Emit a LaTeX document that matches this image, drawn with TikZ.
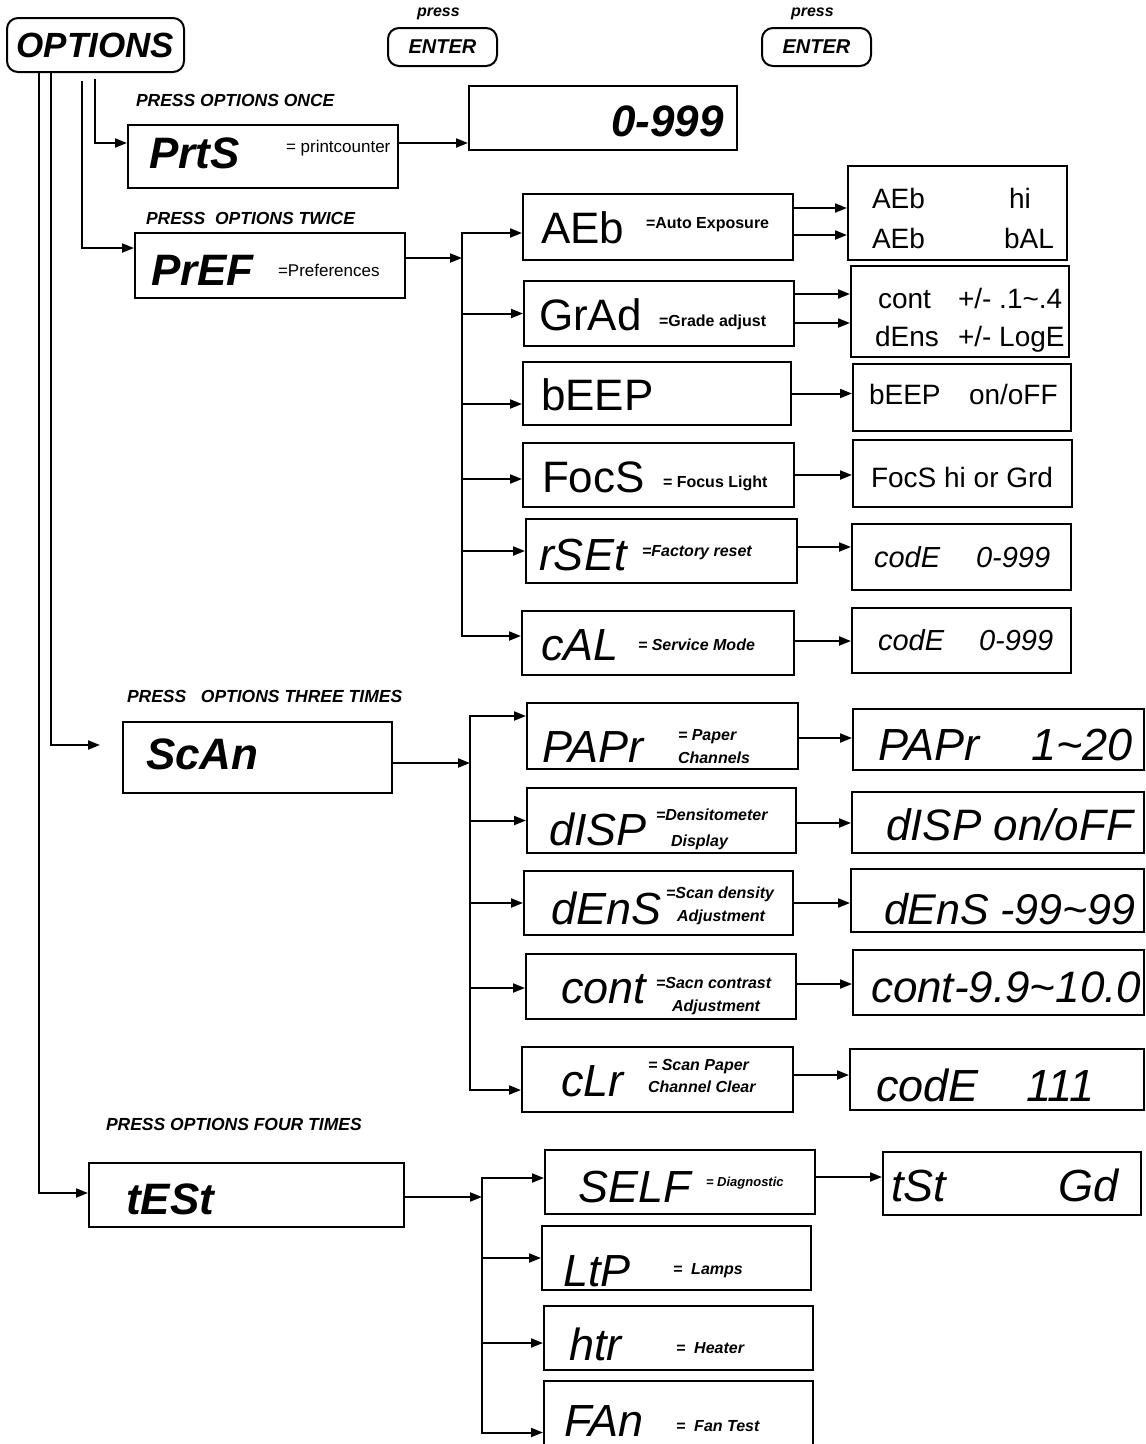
\documentclass[tikz,border=0pt]{standalone}
\usepackage{fontspec}
\setmainfont{Liberation Sans}
\usetikzlibrary{arrows.meta}

\begin{document}
\begin{tikzpicture}[
  x=1pt, y=-1pt,
  line width=2pt,
  box/.style 2 args={draw,line width=2pt,inner sep=0pt,
    minimum width=#1pt,minimum height=#2pt},
  key/.style 2 args={box={#1}{#2},rounded corners=11pt},
  txt/.style={anchor=base west,inner sep=0pt},
  hd/.style={txt,font=\fontsize{17.5}{20}\selectfont\bfseries\itshape},
  press/.style={txt,font=\fontsize{16}{19}\selectfont\bfseries\itshape},
  bigbi/.style={txt,font=\fontsize{44}{50}\selectfont\bfseries\itshape},
  big/.style={txt,font=\fontsize{44}{50}\selectfont},
  bigit/.style={txt,font=\fontsize{45}{50}\selectfont\itshape},
  mid/.style={txt,font=\fontsize{28}{32}\selectfont},
  midit/.style={txt,font=\fontsize{29}{33}\selectfont\itshape},
  reg/.style={txt,font=\fontsize{17}{20}\selectfont},
  note/.style={txt,font=\fontsize{16}{19}\selectfont\bfseries},
  noteit/.style={txt,font=\fontsize{16}{19}\selectfont\bfseries\itshape},
  >={Triangle[length=12pt,width=9pt]}
]
  \useasboundingbox (0,0) rectangle (1146,1444);
  \fill[white] (0,0) rectangle (1146,1444);

  \node[key={177}{54},font=\fontsize{35}{40}\selectfont\bfseries\itshape] (opt) at (95.5,45) {OPTIONS};
  \node[key={109}{38},font=\fontsize{20}{24}\selectfont\bfseries\itshape] (ent1) at (442.5,47) {ENTER};
  \node[key={109}{38},font=\fontsize{20}{24}\selectfont\bfseries\itshape] (ent2) at (816.5,47) {ENTER};
  \node[press] (press1) at (416,16) {press};
  \node[press] (press2) at (790,16) {press};

  \node[hd] (h1) at (135,106) {PRESS OPTIONS ONCE};
  \node[box={270}{63}] (prts) at (263,156.5) {};
  \node[bigbi] (prtsT) at (148,168) {PrtS};
  \node[reg] (prtsN) at (285,152) {= printcounter};
  \node[box={268}{64}] (cnt) at (603,118) {};
  \node[bigbi] (cntT) at (610,136) {0-999};

  \node[hd] (h2) at (145,224) {PRESS\ \ OPTIONS TWICE};
  \node[box={270}{65}] (pref) at (270,265.5) {};
  \node[bigbi] (prefT) at (150,285) {PrEF};
  \node[reg] (prefN) at (277,276) {=Preferences};
  \coordinate (pt) at (462,258);

  \node[box={270}{66}] (aeb) at (658,227) {};
  \node[big] (aebT) at (540,243) {AEb};
  \node[note] (aebN) at (645,228) {=Auto Exposure};
  \node[box={219}{94}] (aebr) at (957.5,213) {};
  \node[mid] (aebr1) at (871,208) {AEb};
  \node[mid] (aebr2) at (1008,208) {hi};
  \node[mid] (aebr3) at (871,248) {AEb};
  \node[mid] (aebr4) at (1003,248) {bAL};

  \node[box={270}{65}] (grad) at (659,313.5) {};
  \node[big] (gradT) at (538,330) {GrAd};
  \node[note] (gradN) at (658,326) {=Grade adjust};
  \node[box={218}{91}] (gradr) at (960,311.5) {};
  \node[mid] (gradr1) at (877,308) {cont};
  \node[mid] (gradr2) at (957,308) {+/- .1\textasciitilde.4};
  \node[mid] (gradr3) at (874,346) {dEns};
  \node[mid] (gradr4) at (957,346) {+/- LogE};

  \node[box={268}{63}] (beep) at (657,393.5) {};
  \node[big] (beepT) at (540,410) {bEEP};
  \node[box={218}{67}] (beepr) at (962,397.5) {};
  \node[mid] (beepr1) at (868,404) {bEEP};
  \node[mid] (beepr2) at (968,404) {on/oFF};

  \node[box={271}{64}] (focs) at (658.5,475) {};
  \node[big] (focsT) at (541,492) {FocS};
  \node[note] (focsN) at (662,487) {= Focus Light};
  \node[box={219}{67}] (focsr) at (962.5,473.5) {};
  \node[mid] (focsr1) at (870,487) {FocS hi or Grd};

  \node[box={271}{64}] (rset) at (661.5,551) {};
  \node[bigit] (rsetT) at (538,570) {rSEt};
  \node[noteit] (rsetN) at (641,556) {=Factory reset};
  \node[box={219}{66}] (rsetr) at (961.5,557) {};
  \node[midit] (rsetr1) at (873,567) {codE};
  \node[midit] (rsetr2) at (975,567) {0-999};

  \node[box={272}{64}] (cal) at (658,643) {};
  \node[bigit] (calT) at (540,660) {cAL};
  \node[noteit] (calN) at (637,650) {= Service Mode};
  \node[box={219}{65}] (calr) at (961.5,640.5) {};
  \node[midit] (calr1) at (877,650) {codE};
  \node[midit] (calr2) at (978,650) {0-999};

  \node[hd] (h3) at (126,702) {PRESS\ \ \ OPTIONS THREE TIMES};
  \node[box={269}{71}] (scan) at (257.5,757.5) {};
  \node[bigbi] (scanT) at (145,769) {ScAn};
  \coordinate (scanin) at (100,745);
  \coordinate (st) at (470,763);

  \node[box={271}{66}] (papr) at (662.5,736) {};
  \node[bigit] (paprT) at (541,762) {PAPr};
  \node[noteit] (paprN1) at (677,740) {= Paper};
  \node[noteit] (paprN2) at (677,763) {Channels};
  \node[box={291}{61}] (paprr) at (998.5,739.5) {};
  \node[bigit] (paprr1) at (877,760) {PAPr};
  \node[bigit] (paprr2) at (1030,760) {1\textasciitilde 20};

  \node[box={269}{65}] (disp) at (661.5,820.5) {};
  \node[bigit] (dispT) at (548,845) {dISP};
  \node[noteit] (dispN1) at (655,820) {=Densitometer};
  \node[noteit] (dispN2) at (670,846) {Display};
  \node[box={292}{61}] (dispr) at (998,822.5) {};
  \node[bigit,font=\fontsize{44}{50}\selectfont\itshape] (dispr1) at (885,840) {dISP on/oFF};

  \node[box={269}{64}] (dens) at (658.5,903) {};
  \node[bigit] (densT) at (550,924) {dEnS};
  \node[noteit] (densN1) at (665,898) {=Scan density};
  \node[noteit] (densN2) at (676,921) {Adjustment};
  \node[box={293}{63}] (densr) at (997.5,900.5) {};
  \node[bigit,font=\fontsize{43}{50}\selectfont\itshape] (densr1) at (883,924) {dEnS};
  \node[bigit,font=\fontsize{43}{50}\selectfont\itshape] (densr2) at (999,924) {-99\textasciitilde 99};

  \node[box={270}{65}] (cont) at (661,986.5) {};
  \node[bigit] (contT) at (560,1003) {cont};
  \node[noteit] (contN1) at (655,988) {=Sacn contrast};
  \node[noteit] (contN2) at (671,1011) {Adjustment};
  \node[box={291}{65}] (contr) at (998.5,982.5) {};
  \node[bigit,font=\fontsize{44}{50}\selectfont\itshape] (contr1) at (870,1002) {cont-9.9\textasciitilde 10.0};

  \node[box={271}{65}] (clr) at (657.5,1079.5) {};
  \node[bigit] (clrT) at (560,1096) {cLr};
  \node[noteit] (clrN1) at (647,1070) {= Scan Paper};
  \node[noteit] (clrN2) at (647,1092) {Channel Clear};
  \node[box={294}{61}] (clrr) at (997,1079.5) {};
  \node[bigit] (clrr1) at (875,1101) {codE};
  \node[bigit] (clrr2) at (1025,1101) {111};

  \node[hd] (h4) at (105,1130) {PRESS OPTIONS FOUR TIMES};
  \node[box={315}{64}] (test) at (246.5,1195) {};
  \node[bigbi] (testT) at (125,1214) {tESt};
  \coordinate (tt) at (482,1197);

  \node[box={270}{64}] (self) at (680,1182) {};
  \node[bigit] (selfT) at (577,1202) {SELF};
  \node[noteit,font=\fontsize{13}{15}\selectfont\bfseries\itshape] (selfN) at (705,1186) {= Diagnostic};
  \node[box={258}{63}] (selfr) at (1012,1183.5) {};
  \node[bigit] (selfr1) at (890,1201) {tSt};
  \node[bigit] (selfr2) at (1057,1201) {Gd};

  \node[box={269}{64}] (ltp) at (676.5,1258) {};
  \node[bigit] (ltpT) at (562,1286) {LtP};
  \node[noteit] (ltpN) at (672,1274) {=\ \ Lamps};
  \node[box={269}{64}] (htr) at (678.5,1338) {};
  \node[bigit] (htrT) at (568,1360) {htr};
  \node[noteit] (htrN) at (675,1353) {=\ \ Heater};
  \node[box={269}{68}] (fan) at (678.5,1415) {};
  \node[bigit] (fanT) at (563,1436) {FAn};
  \node[noteit] (fanN) at (675,1431) {=\ \ Fan Test};

  \draw[->] ([xshift=33pt]opt.south west) |- ([yshift=2pt]test.west);
  \draw[->] ([xshift=45pt]opt.south west) |- (scanin);
  \draw[->] ([xshift=76pt,yshift=-8pt]opt.south west) |- ([yshift=17.5pt]pref.west);
  \draw[->] ([xshift=89pt,yshift=-6pt]opt.south west) |- ([yshift=13.5pt]prts.west);

  \draw[->] ([yshift=7.5pt]pref.east) -- (pt);
  \foreach \n/\s in {aeb/-6,grad/0,beep/-10.5,focs/-4,rset/0,cal/7}
    \draw[->] (pt) |- ([yshift=\s pt]\n.west);
  \draw[->] ([yshift=-5.5pt]scan.east) -- (st);
  \foreach \n/\s in {papr/20,disp/0,dens/0,cont/-1.5,clr/-10.5}
    \draw[->] (st) |- ([yshift=\s pt]\n.west);
  \draw[->] ([yshift=-2pt]test.east) -- (tt);
  \foreach \n/\s in {self/4,ltp/0,htr/-5,fan/-17.5}
    \draw[->] (tt) |- ([yshift=\s pt]\n.west);

  \foreach \a/\b/\s in {prts/cnt/13.5,aeb/aebr/19,aeb/aebr/-8,grad/gradr/19.5,grad/gradr/-9.5,beep/beepr/0,focs/focsr/0,rset/rsetr/4,cal/calr/2,papr/paprr/-2,disp/dispr/-2.5,dens/densr/0,cont/contr/2.5,clr/clrr/4.5,self/selfr/5}
    \draw[->] ([yshift=\s pt]\a.east) coordinate (tmp) -- (tmp -| \b.west);
\end{tikzpicture}
\end{document}
